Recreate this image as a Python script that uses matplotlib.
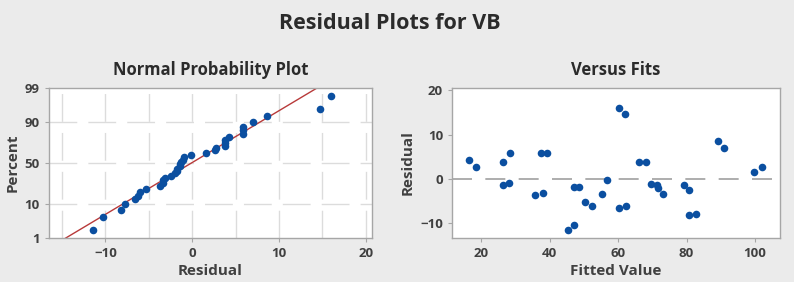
"""Residual plots for VB: normal probability plot and residuals versus fits."""

from statistics import NormalDist

import matplotlib

matplotlib.use("Agg")
import matplotlib.pyplot as plt
import numpy as np

plt.rcParams["font.family"] = ["Open Sans", "DejaVu Sans"]

fitted = [16.5, 18.5, 26.3, 26.3, 28.0, 28.5, 35.8, 37.4, 38.0, 39.3,
          45.3, 47.0, 47.0, 48.7, 50.4, 52.4, 55.2, 56.9, 60.3, 60.3,
          61.9, 62.3, 66.0, 68.2, 69.6, 71.3, 71.8, 73.0, 79.3, 80.8,
          80.8, 82.8, 89.1, 90.8, 99.8, 101.9]
residual = [4.2, 2.6, 3.8, -1.3, -0.9, 5.8, -3.7, 5.8, -3.1, 5.8,
            -11.4, -10.3, -1.8, -1.8, -5.3, -6.0, -3.4, -0.15, 16.0, -6.6,
            14.7, -6.2, 3.8, 3.8, -1.1, -1.4, -2.0, -3.4, -1.4, -2.4,
            -8.2, -7.8, 8.6, 7.0, 1.6, 2.7]

percent_ticks = [1, 10, 50, 90, 99]
npp_xticks = [-10, 0, 10, 20]
fits_xticks = [20, 40, 60, 80, 100]
fits_yticks = [-10, 0, 10, 20]

BG = "#ebebeb"
TEXT = "#2b2b2b"
SPINE = "#a6a6a6"
DOT = "#0b4fa0"
GRID = "#dcdcdc"
WEIGHT = "bold"

norm = NormalDist()


def style_axes(ax):
    for side in ax.spines.values():
        side.set_color(SPINE)
        side.set_linewidth(1.0)
    ax.tick_params(colors=SPINE, labelcolor="#404040", labelsize=9.5, length=3, width=0.8)
    for lab in ax.get_xticklabels() + ax.get_yticklabels():
        lab.set_fontweight(WEIGHT)


fig = plt.figure(figsize=(7.94, 2.82), dpi=100, facecolor=BG)
fig.text(0.491, 0.915, "Residual Plots for VB", ha="center", va="center",
         fontsize=15.5, fontweight=WEIGHT, color=TEXT)

# --- Normal probability plot -------------------------------------------
ax1 = fig.add_axes([0.0617, 0.156, 0.4068, 0.532])
res = np.sort(np.asarray(residual))
n = len(res)
probs = (np.arange(1, n + 1) - 0.3) / (n + 0.4)
z = np.array([norm.inv_cdf(p) for p in probs])

mu, sigma = res.mean(), res.std(ddof=1)
zline = np.linspace(-3, 3, 50)
ax1.plot(mu + sigma * zline, zline, color="#b83a3a", lw=1.0, zorder=2)
ax1.scatter(res, z, s=30, color=DOT, zorder=3, linewidths=0)

ax1.set_xlim(-16.5, 20.7)
ax1.set_ylim(norm.inv_cdf(0.01), norm.inv_cdf(0.99))
ax1.set_yticks([norm.inv_cdf(p / 100) for p in percent_ticks])
ax1.set_yticklabels([str(p) for p in percent_ticks])
ax1.set_xticks(npp_xticks)
for gx in np.arange(-15, 21, 5):
    ax1.axvline(gx, color=GRID, lw=1.0, ls=(0, (20, 8)), zorder=1)
for p in [10, 50, 90]:
    ax1.axhline(norm.inv_cdf(p / 100), color=GRID, lw=1.0, ls=(0, (20, 8)), zorder=1)
style_axes(ax1)
ax1.set_title("Normal Probability Plot", fontsize=12, fontweight=WEIGHT,
              color=TEXT, pad=9)
ax1.set_xlabel("Residual", fontsize=11, fontweight=WEIGHT, color="#404040", labelpad=3)
ax1.set_ylabel("Percent", fontsize=11, fontweight=WEIGHT, color="#404040", labelpad=4)

# --- Versus fits -------------------------------------------------------
ax2 = fig.add_axes([0.5693, 0.156, 0.4131, 0.532])
ax2.axhline(0, color="#a0a0a0", lw=1.2, ls=(0, (12, 8)), zorder=1)
ax2.scatter(fitted, residual, s=30, color=DOT, zorder=3, linewidths=0)
ax2.set_xlim(11.5, 107.3)
ax2.set_ylim(-13.3, 20.5)
ax2.set_xticks(fits_xticks)
ax2.set_yticks(fits_yticks)
style_axes(ax2)
ax2.set_title("Versus Fits", fontsize=12, fontweight=WEIGHT, color=TEXT, pad=9)
ax2.set_xlabel("Fitted Value", fontsize=11, fontweight=WEIGHT, color="#404040", labelpad=3)
ax2.set_ylabel("Residual", fontsize=11, fontweight=WEIGHT, color="#404040", labelpad=4)

fig.savefig("out.png", dpi=100, facecolor=BG)
